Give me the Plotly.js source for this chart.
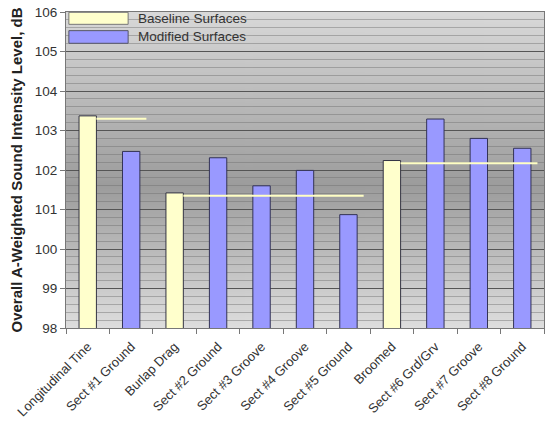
<!DOCTYPE html>
<html>
<head>
<meta charset="utf-8">
<script src="https://cdn.plot.ly/plotly-3.0.1.min.js"></script>
<style>
  html, body { margin: 0; padding: 0; background: #ffffff; }
  #chart { width: 550px; height: 425px; }
</style>
</head>
<body>
<div id="chart"></div>
<script>
// ---- data ----
var categories = ['Longitudinal Tine', 'Sect #1 Ground', 'Burlap Drag', 'Sect #2 Ground',
  'Sect #3 Groove', 'Sect #4 Groove', 'Sect #5 Ground', 'Broomed',
  'Sect #6 Grd/Grv', 'Sect #7 Groove', 'Sect #8 Ground'];
var levels = [103.37, 102.47, 101.42, 102.31, 101.60, 101.99, 100.87, 102.24, 103.29, 102.80, 102.55];
var surfaceType = ['Baseline', 'Modified', 'Baseline', 'Modified', 'Modified', 'Modified',
  'Modified', 'Baseline', 'Modified', 'Modified', 'Modified'];
var baselineLineLevels = [103.30, 101.35, 102.17];
var groupFirst = [0, 2, 7];
var groupLast = [1, 6, 10];
var yTickVals = [98, 99, 100, 101, 102, 103, 104, 105, 106];

// ---- styling helpers ----
var barWidth = 0.4;
var idx = categories.map(function (c, i) { return i; });
function pick(type) {
  var xs = [], ys = [];
  idx.forEach(function (i) { if (surfaceType[i] === type) { xs.push(i); ys.push(levels[i]); } });
  return { x: xs, y: ys };
}
var base = pick('Baseline');
var mod = pick('Modified');

var traces = [
  { type: 'bar', x: base.x, y: base.y, width: barWidth, name: 'Baseline Surfaces',
    marker: { color: '#ffffcc', line: { color: '#333344', width: 1 } }, showlegend: false },
  { type: 'bar', x: mod.x, y: mod.y, width: barWidth, name: 'Modified Surfaces',
    marker: { color: '#9999ff', line: { color: '#333355', width: 1 } }, showlegend: false }
];
baselineLineLevels.forEach(function (lv, k) {
  traces.push({ type: 'scatter', mode: 'lines',
    x: [groupFirst[k] + barWidth / 2, groupLast[k] + 0.35], y: [lv, lv],
    line: { color: '#ffffc4', width: 2 }, hoverinfo: 'skip', showlegend: false });
});

// gradient background
var cv = document.createElement('canvas');
cv.width = 4; cv.height = 320;
var ctx = cv.getContext('2d');
var g = ctx.createLinearGradient(0, 0, 0, 320);
g.addColorStop(0, '#d9d9d9');
g.addColorStop(0.55, '#9c9c9c');
g.addColorStop(1, '#dedede');
ctx.fillStyle = g; ctx.fillRect(0, 0, 4, 320);
var bgURL = cv.toDataURL('image/png');

var font = 'Liberation Sans, Arial, sans-serif';
var layout = {
  width: 550, height: 425,
  margin: { l: 66, r: 6, t: 12, b: 97 },
  paper_bgcolor: '#ffffff',
  plot_bgcolor: '#c0c0c0',
  barmode: 'overlay',
  font: { family: font, color: '#333333' },
  images: [{ source: bgURL, xref: 'paper', yref: 'paper', x: 0, y: 1, sizex: 1, sizey: 1,
    xanchor: 'left', yanchor: 'top', sizing: 'stretch', layer: 'below' }],
  xaxis: {
    range: [-0.5, 10.5], tickmode: 'array', tickvals: idx, ticktext: categories,
    tickangle: -45, ticks: '', showgrid: false, zeroline: false,
    showline: true, linecolor: '#777777', linewidth: 1, mirror: true,
    ticklabelstandoff: 5,
    tickfont: { size: 13, color: '#333333', family: font },
    minor: { tick0: -0.5, dtick: 1, ticks: 'outside', ticklen: 5, tickcolor: '#777777', showgrid: false }
  },
  yaxis: {
    range: [98, 106], tickmode: 'array', tickvals: yTickVals,
    ticks: 'outside', ticklen: 5, tickcolor: '#777777',
    showline: true, linecolor: '#777777', linewidth: 1, mirror: true,
    showgrid: true, gridcolor: '#555555', gridwidth: 1, zeroline: false,
    minor: { dtick: 0.2, showgrid: true, gridcolor: 'rgba(110,110,110,0.45)', gridwidth: 1, ticks: '' },
    tickfont: { size: 13.5, color: '#333333', family: font },
    title: { text: '<b>Overall A-Weighted Sound Intensity Level, dB</b>',
      font: { size: 15, color: '#222222', family: font }, standoff: 8 }
  },
  shapes: [
    { type: 'rect', xref: 'paper', yref: 'paper', x0: 0.006, x1: 0.130, y0: 0.961, y1: 0.999,
      fillcolor: '#ffffcc', line: { color: '#777777', width: 1 } },
    { type: 'rect', xref: 'paper', yref: 'paper', x0: 0.006, x1: 0.130, y0: 0.901, y1: 0.941,
      fillcolor: '#9999ff', line: { color: '#555566', width: 1 } }
  ],
  annotations: [
    { xref: 'paper', yref: 'paper', x: 0.147, y: 0.981, xanchor: 'left', yanchor: 'middle',
      text: 'Baseline Surfaces', showarrow: false, font: { size: 13.5, color: '#333333', family: font } },
    { xref: 'paper', yref: 'paper', x: 0.147, y: 0.921, xanchor: 'left', yanchor: 'middle',
      text: 'Modified Surfaces', showarrow: false, font: { size: 13.5, color: '#333333', family: font } }
  ]
};

Plotly.newPlot('chart', traces, layout, { displayModeBar: false, staticPlot: true });
</script>
</body>
</html>
